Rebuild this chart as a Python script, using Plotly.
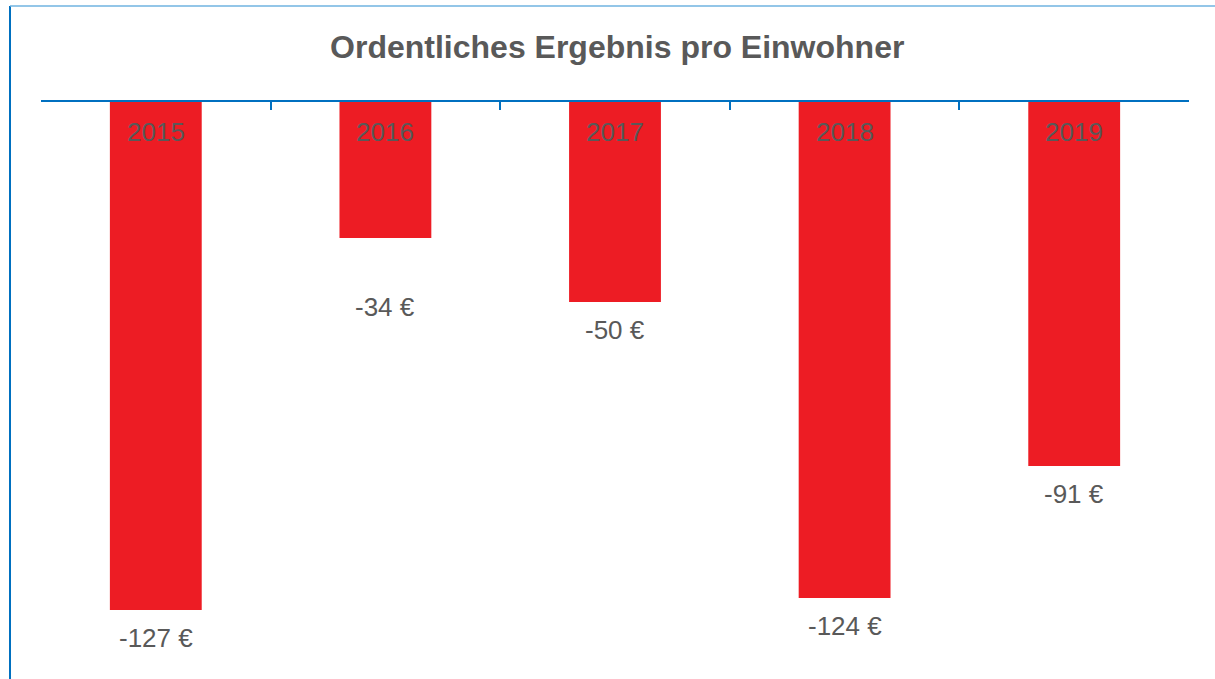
import plotly.graph_objects as go

# Ordentliches Ergebnis pro Einwohner (EUR)
years = ["2015", "2016", "2017", "2018", "2019"]
values = [-127, -34, -50, -124, -91]
value_labels = ["-127 €", "-34 €", "-50 €", "-124 €", "-91 €"]

BAR_RED = "#ED1C24"
TEXT_GRAY = "#595959"
AXIS_BLUE = "#0070C0"
FONT = "Liberation Sans, Arial, sans-serif"

W, H = 1215, 679
L, R, T, B = 41, 26, 102, 17
plot_w = W - L - R
plot_h = H - T - B

fig = go.Figure()
fig.add_trace(go.Bar(
    x=years,
    y=values,
    marker=dict(color=BAR_RED, line=dict(width=0)),
    width=0.4,
    hoverinfo="skip",
))

# year labels inside bar tops (category index positions)
for i, yr in enumerate(years):
    fig.add_annotation(x=i, y=0, text=yr, showarrow=False,
                       yanchor="middle", yshift=-30,
                       font=dict(family=FONT, size=26, color=TEXT_GRAY))

# value labels below bar ends; the 2016 label sits lower in the original
label_shift = {1: -69}
for i, (v, lab) in enumerate(zip(values, value_labels)):
    fig.add_annotation(x=i, y=v, text=lab, showarrow=False,
                       yanchor="middle", yshift=label_shift.get(i, -28),
                       font=dict(family=FONT, size=26, color=TEXT_GRAY))

# frame lines (left and top)
x_left = (10 - L) / plot_w
y_top = 1 + (T - 6) / plot_h
y_bot = -B / plot_h
fig.add_shape(type="line", xref="paper", yref="paper",
              x0=x_left, x1=x_left, y0=y_top, y1=y_bot - 0.05,
              line=dict(color=AXIS_BLUE, width=2))
fig.add_shape(type="line", xref="paper", yref="paper",
              x0=x_left, x1=1 + (R + 5) / plot_w, y0=y_top, y1=y_top,
              line=dict(color="#6FB3E0", width=1.5))

fig.update_layout(
    width=W, height=H,
    margin=dict(l=L, r=R, t=T, b=B),
    paper_bgcolor="white",
    plot_bgcolor="white",
    showlegend=False,
    title=dict(text="<b>Ordentliches Ergebnis pro Einwohner</b>",
               x=0.508, xanchor="center", y=1 - 47 / H, yanchor="middle",
               font=dict(family=FONT, size=32, color=TEXT_GRAY)),
)
fig.update_xaxes(
    type="category",
    range=[-0.5, len(years) - 0.5],
    side="top",
    showline=True, linecolor=AXIS_BLUE, linewidth=2,
    ticks="inside", tickson="boundaries", ticklen=8,
    tickcolor=AXIS_BLUE, tickwidth=2,
    showticklabels=False,
    showgrid=False, zeroline=False,
)
fig.update_yaxes(
    range=[-140, 0],
    showticklabels=False, showgrid=False, zeroline=False,
    showline=False, ticks="",
)

fig.write_html("out.html", config={"displayModeBar": False},
               post_script="document.body.style.margin='0px';")
